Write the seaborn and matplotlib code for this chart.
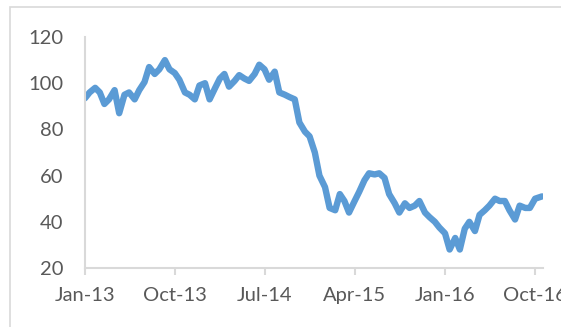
import matplotlib
matplotlib.use("Agg")
import matplotlib.pyplot as plt
from matplotlib.patches import Rectangle
import pandas as pd
import seaborn as sns

# Half-monthly readings of the series (price level)
dates = [
    "2013-01-01", "2013-01-15", "2013-02-01", "2013-02-15", "2013-03-01", "2013-03-15",
    "2013-04-01", "2013-04-15", "2013-05-01", "2013-05-15", "2013-06-01", "2013-06-15",
    "2013-07-01", "2013-07-15", "2013-08-01", "2013-08-15", "2013-09-01", "2013-09-15",
    "2013-10-01", "2013-10-15", "2013-11-01", "2013-11-15", "2013-12-01", "2013-12-15",
    "2014-01-01", "2014-01-15", "2014-02-01", "2014-02-15", "2014-03-01", "2014-03-15",
    "2014-04-01", "2014-04-15", "2014-05-01", "2014-05-15", "2014-06-01", "2014-06-15",
    "2014-07-01", "2014-07-15", "2014-08-01", "2014-08-15", "2014-09-01", "2014-09-15",
    "2014-10-01", "2014-10-15", "2014-11-01", "2014-11-15", "2014-12-01", "2014-12-15",
    "2015-01-01", "2015-01-15", "2015-02-01", "2015-02-15", "2015-03-01", "2015-03-15",
    "2015-04-01", "2015-04-15", "2015-05-01", "2015-05-15", "2015-06-01", "2015-06-15",
    "2015-07-01", "2015-07-15", "2015-08-01", "2015-08-15", "2015-09-01", "2015-09-15",
    "2015-10-01", "2015-10-15", "2015-11-01", "2015-11-15", "2015-12-01", "2015-12-15",
    "2016-01-01", "2016-01-15", "2016-02-01", "2016-02-15", "2016-03-01", "2016-03-15",
    "2016-04-01", "2016-04-15", "2016-05-01", "2016-05-15", "2016-06-01", "2016-06-15",
    "2016-07-01", "2016-07-15", "2016-08-01", "2016-08-15", "2016-09-01", "2016-09-15",
    "2016-10-01", "2016-10-22",
]
prices = [
    93.5, 96, 98, 96, 91, 93,
    97, 87, 95, 96, 93, 97,
    100.5, 107, 104, 106, 110, 106,
    104.4, 101.5, 96, 95, 93, 99,
    100, 93, 98, 102, 104, 98.5,
    101, 103.5, 102, 101, 104, 108,
    106, 101.5, 105, 96, 95, 94,
    93, 83, 79, 77, 70, 60,
    55, 46, 45, 52, 49, 44,
    49, 53, 58, 61, 60.5, 61,
    59, 52, 48, 44, 48, 46,
    47, 49, 44, 42, 40, 37.5,
    35, 28, 33, 28, 37, 40,
    36, 43, 45, 47, 50, 49,
    49, 45, 41, 47, 46, 46,
    50, 51,
]
tick_dates = ["2013-01-01", "2013-10-01", "2014-07-01", "2015-04-01", "2016-01-01", "2016-10-01"]
tick_labels = ["Jan-13", "Oct-13", "Jul-14", "Apr-15", "Jan-16", "Oct-16"]
y_ticks = [20, 40, 60, 80, 100, 120]

df = pd.DataFrame({"date": pd.to_datetime(dates), "price": prices})

sns.set_style("white")
plt.rcParams["font.family"] = ["Lato", "DejaVu Sans"]

fig = plt.figure(figsize=(5.61, 3.27), dpi=100)
ax = fig.add_axes([85 / 561, 59 / 327, 458 / 561, 231 / 327])

sns.lineplot(data=df, x="date", y="price", ax=ax, color="#5B9BD5", linewidth=4.6)

ax.set_xlim(pd.Timestamp("2013-01-01"), pd.Timestamp("2016-10-25"))
ax.set_ylim(20, 120)
ax.set_yticks(y_ticks)
ax.set_yticklabels([str(v) for v in y_ticks])
ax.set_xticks(pd.to_datetime(tick_dates))
ax.set_xticklabels(tick_labels)
ax.set_xlabel("")
ax.set_ylabel("")

for s in ["top", "right"]:
    ax.spines[s].set_visible(False)
for s in ["left", "bottom"]:
    ax.spines[s].set_color("#D9D9D9")
    ax.spines[s].set_linewidth(1.5)

ax.tick_params(axis="y", length=0, pad=15.5, labelsize=14.5, labelcolor="#595959")
ax.tick_params(axis="x", length=5, width=1.5, color="#D9D9D9", direction="out",
               pad=9, labelsize=14.5, labelcolor="#595959", bottom=True)
ax.grid(False)

fig.patches.append(Rectangle((10 / 561, -0.05), 1.0, (327 - 7) / 327 + 0.05,
                             transform=fig.transFigure, fill=False,
                             edgecolor="#D9D9D9", linewidth=1.2))

fig.savefig("out.png", dpi=100)
